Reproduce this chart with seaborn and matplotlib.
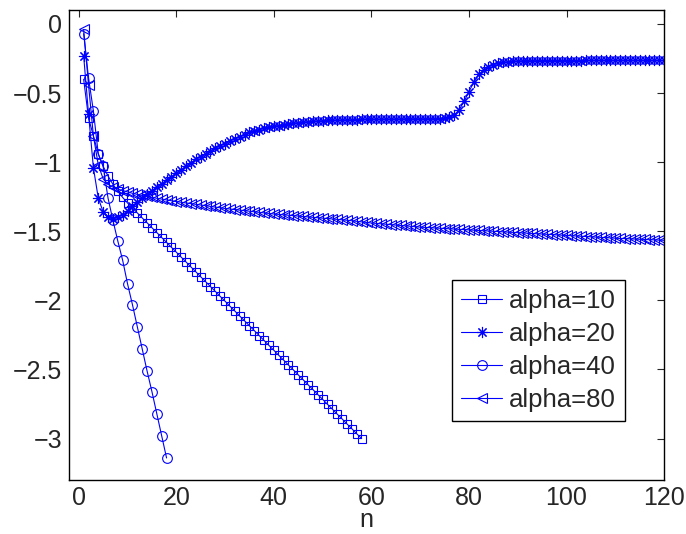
import numpy as np
import pandas as pd
import matplotlib
matplotlib.use("Agg")
import matplotlib.pyplot as plt
import seaborn as sns

# values, n = 1, 2, 3, ...
alpha10 = [-0.40, -0.68, -0.81, -0.94, -1.03, -1.10, -1.16, -1.21, -1.255, -1.295,
           -1.332, -1.367, -1.403, -1.438, -1.474, -1.509, -1.545, -1.58, -1.616, -1.651,
           -1.687, -1.722, -1.758, -1.793, -1.829, -1.864, -1.90, -1.935, -1.971, -2.006,
           -2.042, -2.077, -2.113, -2.148, -2.184, -2.219, -2.255, -2.29, -2.326, -2.361,
           -2.397, -2.432, -2.468, -2.503, -2.539, -2.574, -2.61, -2.645, -2.681, -2.716,
           -2.752, -2.787, -2.823, -2.858, -2.894, -2.929, -2.965, -3.0]

alpha20 = [-0.23, -0.65, -1.04, -1.26, -1.36, -1.40, -1.41, -1.40, -1.38, -1.35,
           -1.32, -1.29, -1.26, -1.23, -1.205, -1.18, -1.155, -1.13, -1.105, -1.08,
           -1.055, -1.03, -1.005, -0.98, -0.96, -0.94, -0.92, -0.90, -0.88, -0.865,
           -0.845, -0.83, -0.815, -0.80, -0.785, -0.775, -0.765, -0.755, -0.745, -0.74,
           -0.735, -0.728, -0.722, -0.718, -0.714, -0.71, -0.707, -0.704, -0.702, -0.70,
           -0.698, -0.697, -0.696, -0.695, -0.694, -0.693, -0.692, -0.691, -0.690, -0.690,
           -0.689, -0.689, -0.688, -0.688, -0.688, -0.687, -0.687, -0.687, -0.686, -0.686,
           -0.686, -0.685, -0.685, -0.684, -0.682, -0.675, -0.66, -0.62, -0.56, -0.49,
           -0.42, -0.365, -0.335, -0.31, -0.295, -0.285, -0.278, -0.273, -0.27, -0.268,
           -0.267, -0.266, -0.266, -0.266, -0.265, -0.265, -0.265, -0.265, -0.265, -0.265,
           -0.265, -0.265, -0.265, -0.264, -0.264, -0.264, -0.264, -0.264, -0.264, -0.264,
           -0.264, -0.264, -0.264, -0.264, -0.264, -0.264, -0.264, -0.264, -0.264, -0.264]

alpha40 = [-0.07, -0.39, -0.63, -0.94, -1.03, -1.26, -1.42, -1.57, -1.71, -1.88,
           -2.03, -2.19, -2.35, -2.51, -2.66, -2.82, -2.98, -3.14]

alpha80 = [-0.04, -0.44, -0.81, -1.02, -1.12, -1.16, -1.18, -1.195, -1.205, -1.215,
           -1.225, -1.233, -1.241, -1.248, -1.255, -1.261, -1.267, -1.273, -1.279, -1.285,
           -1.29, -1.295, -1.30, -1.305, -1.31, -1.315, -1.32, -1.325, -1.33, -1.335,
           -1.339, -1.343, -1.347, -1.351, -1.355, -1.359, -1.363, -1.367, -1.371, -1.375,
           -1.378, -1.381, -1.384, -1.387, -1.39, -1.393, -1.396, -1.399, -1.402, -1.405,
           -1.408, -1.411, -1.414, -1.417, -1.42, -1.424, -1.428, -1.432, -1.436, -1.44,
           -1.443, -1.446, -1.449, -1.452, -1.455, -1.458, -1.461, -1.464, -1.467, -1.47,
           -1.472, -1.474, -1.476, -1.478, -1.48, -1.482, -1.484, -1.486, -1.488, -1.49,
           -1.492, -1.494, -1.496, -1.498, -1.50, -1.502, -1.504, -1.506, -1.508, -1.51,
           -1.512, -1.514, -1.516, -1.518, -1.52, -1.522, -1.524, -1.526, -1.528, -1.53,
           -1.532, -1.534, -1.536, -1.538, -1.54, -1.542, -1.544, -1.546, -1.548, -1.55,
           -1.552, -1.553, -1.555, -1.556, -1.558, -1.559, -1.561, -1.562, -1.564, -1.565]

labels = ["alpha=10", "alpha=20", "alpha=40", "alpha=80"]
markers = ["s", (8, 2, 0), "o", "<"]
msizes = [6, 8, 7, 7]

sns.set_style("white")
plt.rcParams['font.family'] = ['Liberation Sans', 'DejaVu Sans']

fig, ax = plt.subplots(figsize=(6.86, 5.34), dpi=100)
fig.subplots_adjust(left=0.1006, right=0.968, top=0.981, bottom=0.101)

for label, vals, mk, ms in zip(labels, [alpha10, alpha20, alpha40, alpha80], markers, msizes):
    d = pd.DataFrame({"n": np.arange(1, len(vals) + 1), "v": vals})
    sns.lineplot(data=d, x="n", y="v", ax=ax, color="#0000ff", lw=0.8,
                 marker=mk, markersize=ms, markerfacecolor="none",
                 markeredgecolor="#0000ff", markeredgewidth=0.8, label=label)

ax.set_xlim(-2, 120)
ax.set_ylim(-3.3, 0.1)
ax.set_xticks([0, 20, 40, 60, 80, 100, 120])
ax.set_yticks([0, -0.5, -1, -1.5, -2, -2.5, -3])
ax.set_yticklabels(["0", "\u22120.5", "\u22121", "\u22121.5", "\u22122", "\u22122.5", "\u22123"])
ax.set_xlabel("n", fontsize=18, labelpad=-1)
ax.set_ylabel("")
ax.tick_params(direction="in", length=5, width=0.8, top=True, right=True, labelsize=18, pad=5)
ax.tick_params(axis="x", pad=4)
for s in ax.spines.values():
    s.set_color("black")
    s.set_linewidth(1.0)

leg = ax.legend(loc="lower right", bbox_to_anchor=(0.934, 0.1255), fontsize=18.5,
                frameon=True, fancybox=False, edgecolor="black", framealpha=1,
                handlelength=1.6, borderpad=0.35, labelspacing=0.35, handletextpad=0.25,
                borderaxespad=0)
leg.get_frame().set_linewidth(1.0)

fig.savefig("out.png", dpi=100)
